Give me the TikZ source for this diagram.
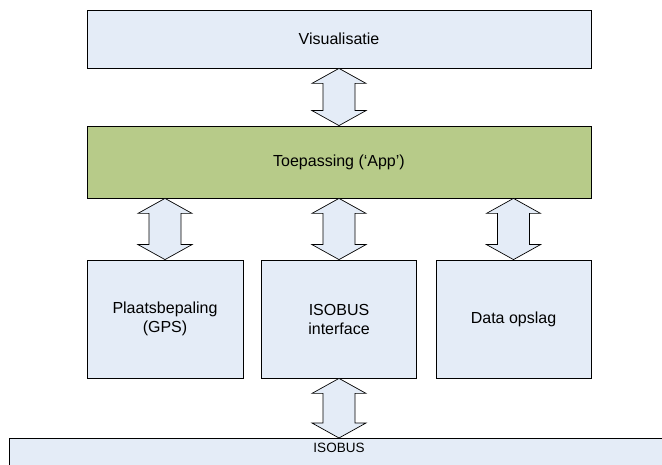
\documentclass[tikz,border=0pt]{standalone}
\usepackage{fontspec}
\setmainfont{Liberation Sans}
\usetikzlibrary{calc}
\definecolor{boxblue}{HTML}{E4ECF7}
\definecolor{appgreen}{HTML}{B7CB89}
\tikzset{
  blk/.style={draw=black, line width=0.8pt, fill=boxblue, inner sep=0pt, align=center,
    font=\fontsize{16}{19}\selectfont},
  dblarrow/.style={draw=black, line width=0.7pt, fill=boxblue, to path={
    let \p1=(\tikztostart), \p2=(\tikztotarget) in
    (\x1,\y1) -- (\x1+27pt,\y1-15pt) -- (\x1+16pt,\y1-15pt) -- (\x1+16pt,\y2+15pt)
    -- (\x1+27pt,\y2+15pt) -- (\x2,\y2) -- (\x1-27pt,\y2+15pt) -- (\x1-16pt,\y2+15pt)
    -- (\x1-16pt,\y1-15pt) -- (\x1-27pt,\y1-15pt) -- cycle}}
}
\begin{document}
\begin{tikzpicture}[x=1pt,y=1pt]
\useasboundingbox (0,0) rectangle (662,464);
\node[blk, minimum width=504, minimum height=58] (vis) at (339,425) {Visualisatie};
\node[blk, fill=appgreen, minimum width=504, minimum height=72] (app) at (339,302) {Toepassing (‘App’)};
\node[blk, minimum width=156, minimum height=118] (gps) at (165,145) {Plaatsbepaling\\(GPS)};
\node[blk, minimum width=155, minimum height=118] (isoif) at (339,145) {ISOBUS\\interface};
\node[blk, minimum width=155, minimum height=118] (data) at (513.5,145) {Data opslag};
\node[blk, minimum width=660, minimum height=40, anchor=north] (bus) at (339,26) {};
\node[font=\fontsize{13.5}{16}\selectfont, inner sep=0pt] (buslbl) at (339,16) {ISOBUS};
\draw[dblarrow] (vis.south) to (app.north);
\draw[dblarrow] (app.south -| gps.north) to (gps.north);
\draw[dblarrow] (app.south) to (isoif.north);
\draw[dblarrow] (app.south -| data.north) to (data.north);
\draw[dblarrow] (isoif.south) to (bus.north);
\end{tikzpicture}
\end{document}
